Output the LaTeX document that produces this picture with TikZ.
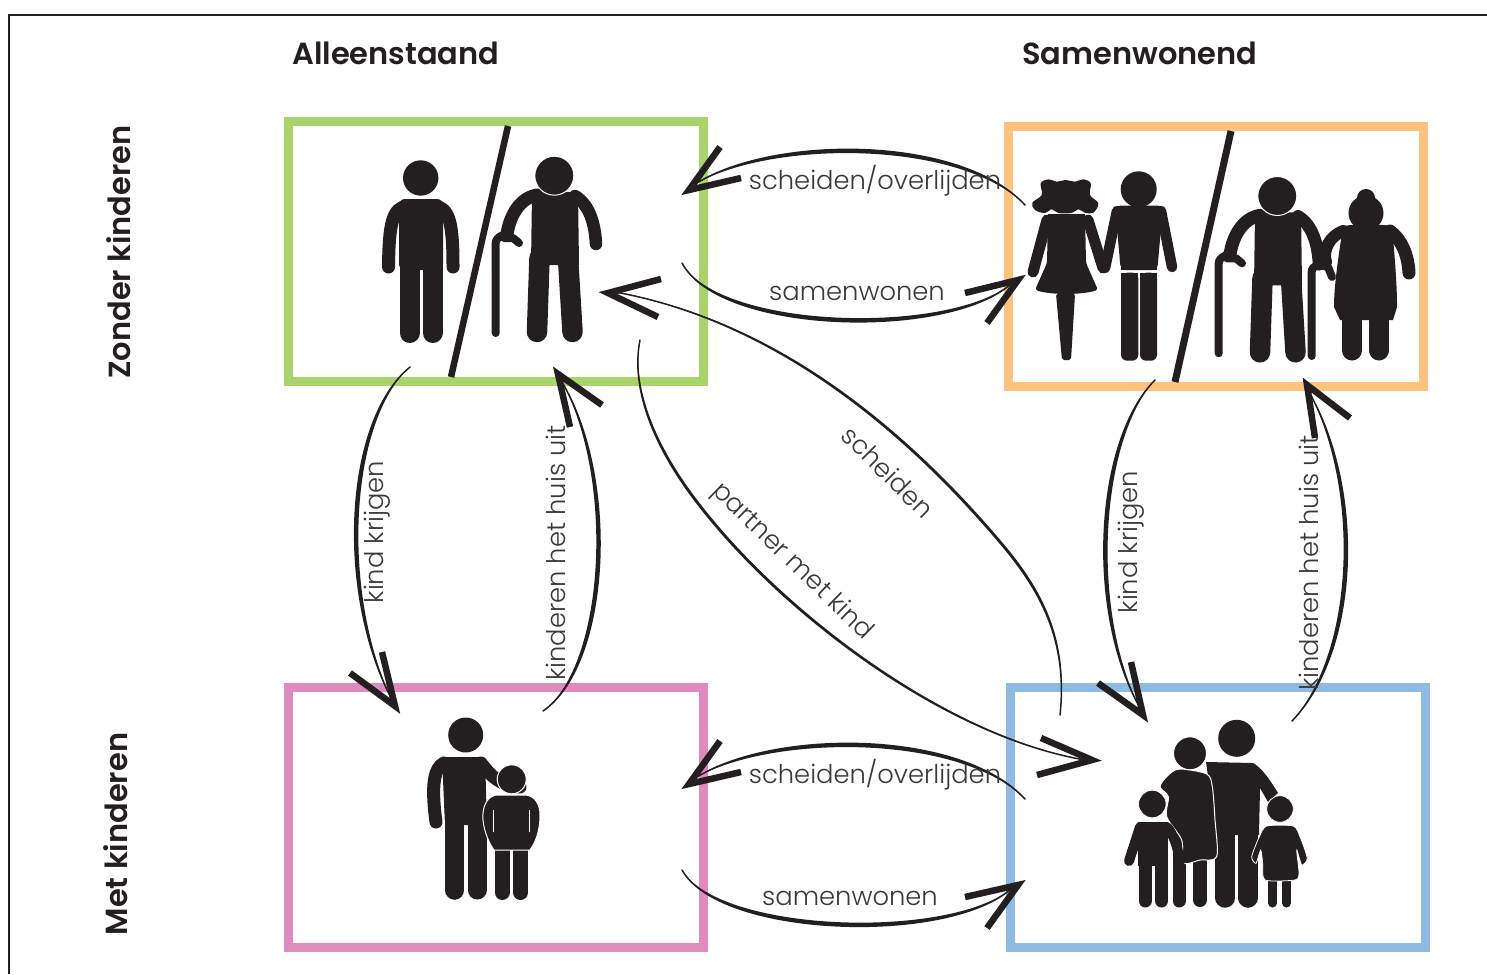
\documentclass[tikz,border=0pt]{standalone}
\usepackage{fontspec}
\setmainfont{Poppins Light}
\newfontfamily\titlefont{Poppins SemiBold}
\usetikzlibrary{calc}
\definecolor{fig}{HTML}{231F20}
\definecolor{labelc}{HTML}{3A3839}
\definecolor{cgreen}{HTML}{A8D46B}
\definecolor{corange}{HTML}{FDC27D}
\definecolor{cpink}{HTML}{E08BBD}
\definecolor{cblue}{HTML}{8FBBE3}
\tikzset{
  panel/.style={draw=#1,line width=9pt,fill=none,minimum width=415pt,minimum height=260pt,inner sep=0pt,outer sep=0pt},
  title/.style={font=\titlefont\fontsize{30.5}{31}\selectfont,text=fig,inner sep=0pt},
  lab/.style={font=\fontsize{25.8}{26}\selectfont,text=labelc,inner sep=0pt},
  limb/.style={draw=fig,line cap=round,line join=round},
  halo/.style={fill=fig,draw=white,line width=1pt},
  vhead/.style={draw=fig,line width=6.5pt,miter limit=12,line join=miter,line cap=butt},
  inkline/.style={draw=fig,line width=1.5pt,line cap=round}
}
\newcommand{\sketchline}[5]{%
  \draw[inkline] (#1) .. controls #2 and #3 .. (#4);
  \fill[fig] (#1) .. controls #2 and #3 .. (#4) .. controls ($#3+#5$) and ($#2+#5$) .. (#1);}
\newcommand{\sketchtwo}[8]{%
  \draw[inkline] (#1) .. controls #2 and #3 .. (#4) .. controls #5 and #6 .. (#7);
  \fill[fig] (#1) .. controls #2 and #3 .. (#4) .. controls #5 and #6 .. (#7)
     .. controls ($#6+#8$) and ($#5+#8$) .. ($(#4)+#8$) .. controls ($#3+#8$) and ($#2+#8$) .. (#1);}
\newcommand{\ohead}[3]{\draw[vhead] (#1) -- (#2) -- (#3);}
\newcommand{\oldman}{%
  \draw[limb,line width=8pt] (495.7,333) -- (495.7,243) .. controls (495.7,240) and (498,237) .. (503,235);
  \fill[fig] (532,192) -- (578,192) -- (579,265) -- (531,265) -- cycle;
  \draw[limb,line width=20.5pt] (539.5,258) -- (537,332);
  \draw[limb,line width=20.5pt] (568,258) -- (572.5,332);
  \draw[limb,line width=12.5pt] (575,196) .. controls (590,205) and (595,225) .. (596,244);
  \draw[limb,line width=13pt] (537,195) .. controls (520,198) and (510,215) .. (507,234);
  \draw[limb,line width=8pt] (504,238) -- (513,238) -- (519,243);
  \fill[halo] (554.3,175.7) circle (19.5pt);
}
\begin{document}
\begin{tikzpicture}[x=1pt,y=-1pt]
\useasboundingbox (0,0) rectangle (1487,974);
\fill[white] (0,0) rectangle (1487,974);
\coordinate (frameA) at (9,974);
\coordinate (frameB) at (9,15);
\coordinate (frameC) at (1487,15);
\draw[fig,line width=2pt] (frameA) -- (frameB) -- (frameC);

\node[panel=cgreen] (boxA) at (495.5,251) {};
\node[panel=corange] (boxB) at (1215.5,256.5) {};
\node[panel=cpink] (boxC) at (495.5,817) {};
\node[panel=cblue] (boxD) at (1217.5,817.5) {};

\node[title,anchor=base west] (tA) at (292,64) {Alleenstaand};
\node[title,anchor=base west] (tB) at (1022,64) {Samenwonend};
\node[title,rotate=90] (tC) at (119,252) {Zonder kinderen};
\node[title,rotate=90] (tD) at (116,834) {Met kinderen};

% slashes
\coordinate (slA) at (508,126); \coordinate (slB) at (451,377);
\coordinate (slC) at (1231,131); \coordinate (slD) at (1175,382);
\draw[fig,line width=6.5pt] (slA) -- (slB);
\draw[fig,line width=7pt] (slC) -- (slD);

% single man
\fill[fig] (420.7,178) circle (17.7pt);
\fill[fig,rounded corners=6pt] (399,199) -- (443,199) -- (443,270) -- (399,270) -- cycle;
\draw[limb,line width=20pt] (409.5,262) -- (409.5,333);
\draw[limb,line width=20pt] (432.5,262) -- (432.5,333);
\draw[limb,line width=13pt] (408,206) .. controls (392,207) and (389,225) .. (388.5,267);
\draw[limb,line width=13pt] (434,206) .. controls (450,207) and (453,225) .. (453,267);

\oldman

% girl
\fill[fig] plot[smooth cycle,tension=.6] coordinates {(1040.7,183.3) (1048.3,179.3) (1056.7,181.7) (1065.7,180) (1075,181.7) (1083.3,179.3) (1090.7,183.3) (1090,195) (1098.3,203.3) (1093.3,212.7) (1085,212.7) (1078.3,209.3) (1071.7,213) (1058.3,213) (1051.7,209.3) (1045,213) (1035,210) (1032.3,202.7) (1041.7,195)};
\fill[fig,rounded corners=3pt] (1048,214) -- (1085,214) -- (1086,263) -- (1098,290) .. controls (1080,295) and (1052,295) .. (1035,290) -- (1047,263) -- cycle;
\fill[fig] (1048,214) -- (1085,214) -- (1085,240) -- (1048,240) -- cycle;
\draw[limb,line width=11pt] (1047,220) -- (1033,272);
\draw[limb,line width=11pt] (1088,220) -- (1103,268);
\fill[fig,rounded corners=2pt] (1056,294) -- (1075,294) -- (1071,360) -- (1062,360) -- cycle;
% boy
\fill[fig] (1138.7,189.3) circle (18pt);
\fill[fig,rounded corners=5pt] (1115,205.7) -- (1163,205.7) -- (1157.3,270) -- (1120.7,270) -- cycle;
\fill[fig] (1121,212) rectangle (1157,270);
\draw[limb,line width=10.5pt] (1117,211) -- (1105,268);
\draw[limb,line width=10.5pt] (1161,211) -- (1172,267);
\fill[fig,rounded corners=6pt] (1121,272.7) -- (1138.3,272.7) -- (1138.3,360.7) -- (1121,360.7) -- cycle;
\fill[fig] (1121,272.7) rectangle (1138.3,340);
\fill[fig,rounded corners=6pt] (1140,272.7) -- (1157,272.7) -- (1157,360.7) -- (1140,360.7) -- cycle;
\fill[fig] (1140,272.7) rectangle (1157,340);

% couple old man + woman
\begin{scope}[shift={(723,20.3)}]\oldman\end{scope}
\draw[limb,line width=8pt] (1311.7,356) -- (1311.7,272) .. controls (1311.7,268) and (1314,266) .. (1320,265);
\fill[fig] (1366,198) circle (9pt);
\fill[fig] (1366,213) circle (17.5pt);
\fill[fig] (1343,226) .. controls (1355,224) and (1378,224) .. (1392,226) .. controls (1395,260) and (1397,285) .. (1397,307) -- (1393,320) -- (1340,320) -- (1334,307) .. controls (1334,285) and (1338,260) .. (1343,226) -- cycle;
\draw[limb,line width=13pt] (1390,231) .. controls (1402,240) and (1408,255) .. (1409,273);
\draw[limb,line width=12pt] (1343,231) .. controls (1330,236) and (1322,250) .. (1326,262);
\draw[limb,line width=8pt] (1320,265) -- (1328,267) -- (1332,277);
\draw[limb,line width=20pt] (1352,318) -- (1352,350.5);
\draw[limb,line width=20pt] (1379,318) -- (1379,350.5);

% parent + child
\fill[fig] (465.7,735) circle (17.5pt);
\fill[fig,rounded corners=5pt] (442,757) -- (485,757) -- (487,825) -- (445,825) -- cycle;
\draw[limb,line width=19.5pt] (454.7,815) -- (454.7,890);
\draw[limb,line width=19pt] (477,815) -- (477,890);
\draw[limb,line width=13pt] (444,763) .. controls (434,768) and (431,785) .. (436,822);
\draw[limb,line width=13pt] (481,763) .. controls (490,775) and (500,786) .. (520,787);
\fill[halo] (511.7,779.3) circle (14.5pt);
\draw[limb,line width=15pt] (502,850) -- (502,892.5);
\draw[limb,line width=15pt] (520.5,850) -- (520.5,892.5);
\fill[halo] (496,795) .. controls (486,797) and (482,808) .. (483,820) .. controls (484,832) and (490,845) .. (494,850) -- (530,850) .. controls (535,843) and (540,832) .. (540,815) .. controls (540,803) and (534,796) .. (526,795) -- cycle;
\fill[white] (492.5,810) rectangle (493.8,832);
\fill[white] (529,810) rectangle (530.3,832);

% family
\draw[limb,line width=19.5pt] (1225,825) -- (1225,898);
\draw[limb,line width=19.5pt] (1248,825) -- (1248,898);
\fill[fig] (1206,762) -- (1253,763) .. controls (1262,768) and (1270,780) .. (1278,793) -- (1268,802) -- (1260,788) -- (1259,835) -- (1216,835) -- cycle;
\fill[fig] (1236.7,738.3) circle (18.5pt);
\draw[limb,line width=13pt] (1179,840) -- (1179,901);
\draw[limb,line width=14pt] (1200,840) -- (1200,900);
\fill[halo] plot[smooth cycle,tension=.5] coordinates {(1160,786.7) (1168.3,775) (1180,769) (1206.7,774) (1212.3,786.7) (1215,820) (1216.7,856.7) (1200,860) (1183.3,863) (1181.7,840) (1166.7,816.7) (1168.3,796.7)};
\fill[halo] (1190,753.3) circle (16.5pt);
\draw[limb,line width=13pt] (1145,835) -- (1145,901);
\draw[limb,line width=13pt] (1161.5,835) -- (1161.5,901);
\fill[fig] (1138,822) -- (1168,822) -- (1168,866) -- (1138,866) -- cycle;
\draw[limb,line width=10pt] (1140,827) -- (1129,861);
\draw[limb,line width=10pt] (1167,827) .. controls (1174,835) and (1178,848) .. (1180,862);
\fill[fig,draw=white,line width=.8pt] (1152.3,804) circle (13.8pt);
\draw[limb,line width=9pt] (1272.5,875) -- (1272.5,903);
\draw[limb,line width=9pt] (1286.5,875) -- (1286.5,903);
\fill[fig,draw=white,line width=.8pt] plot[smooth cycle,tension=.4] coordinates {(1266.7,826) (1293.3,826) (1300,836.7) (1307.3,858.3) (1301.7,865) (1296.7,850) (1299,873.3) (1295,880) (1265,880) (1262.7,863.3) (1260.7,850) (1256,863.3) (1251.7,856.7) (1259.3,836.7)};
\fill[fig,draw=white,line width=.8pt] (1280,809) circle (13.3pt);

% connector ends
\coordinate (a1) at (1025,205); \coordinate (a2) at (697,183);
\coordinate (at) at (689,190); \coordinate (ae1) at (720,147); \coordinate (ae2) at (741,178);
\coordinate (b1) at (682,263); \coordinate (b2) at (1012,283);
\coordinate (bt) at (1018,280); \coordinate (be1) at (965,293); \coordinate (be2) at (987,323);
\coordinate (c1) at (1025,799); \coordinate (c2) at (697,777);
\coordinate (ct) at (689,784); \coordinate (ce1) at (720,741); \coordinate (ce2) at (741,772);
\coordinate (d1) at (682,870); \coordinate (d2) at (1012,888);
\coordinate (dt) at (1018,885); \coordinate (de1) at (965,897); \coordinate (de2) at (987,928);
\coordinate (e1) at (1060,715); \coordinate (em) at (1000,543); \coordinate (e2) at (615,292);
\coordinate (et) at (608,293); \coordinate (ee1) at (661,279); \coordinate (ee2) at (658,317);
\coordinate (f1) at (640,340); \coordinate (fm) at (700,507); \coordinate (f2) at (1085,760);
\coordinate (ft) at (1092,760); \coordinate (fe1) at (1041,738); \coordinate (fe2) at (1037,775);
\coordinate (g1) at (410,367); \coordinate (g2) at (392,700);
\coordinate (gt) at (395,706); \coordinate (ge1) at (350,673); \coordinate (ge2) at (382,652);
\coordinate (h1) at (543,711); \coordinate (h2) at (562,382);
\coordinate (ht) at (558,374); \coordinate (he1) at (602,405); \coordinate (he2) at (570,427);
\coordinate (i1) at (1155,380); \coordinate (i2) at (1140,708);
\coordinate (it) at (1143,715); \coordinate (ie1) at (1098,683); \coordinate (ie2) at (1131,662);
\coordinate (j1) at (1292,721); \coordinate (j2) at (1309,392);
\coordinate (jt) at (1307,385); \coordinate (je1) at (1350,418); \coordinate (je2) at (1315,438);

\sketchline{a1}{(960,135)}{(775,135)}{a2}{(0,5)}
\ohead{ae1}{at}{ae2}
\sketchline{b1}{(720,335)}{(950,340)}{b2}{(0,-5)}
\ohead{be1}{bt}{be2}
\sketchline{c1}{(960,729)}{(775,729)}{c2}{(0,5)}
\ohead{ce1}{ct}{ce2}
\sketchline{d1}{(720,938)}{(950,945)}{d2}{(0,-5)}
\ohead{de1}{dt}{de2}
\sketchtwo{e1}{(1068,640)}{(1040,590)}{em}{(900,425)}{(770,320)}{e2}{(1.5,-1.5)}
\ohead{ee1}{et}{ee2}
\sketchtwo{f1}{(630,390)}{(655,450)}{fm}{(780,610)}{(940,735)}{f2}{(1.5,-1.5)}
\ohead{fe1}{ft}{fe2}
\sketchline{g1}{(345,420)}{(335,590)}{g2}{(5,0)}
\ohead{ge1}{gt}{ge2}
\sketchline{h1}{(610,665)}{(620,480)}{h2}{(-5,0)}
\ohead{he1}{ht}{he2}
\sketchline{i1}{(1095,440)}{(1085,610)}{i2}{(5,0)}
\ohead{ie1}{it}{ie2}
\sketchline{j1}{(1360,650)}{(1365,490)}{j2}{(-5,0)}
\ohead{je1}{jt}{je2}

% labels
\node[lab] (l1) at (875,181) {scheiden/overlijden};
\node[lab] (l2) at (857,293) {samenwonen};
\node[lab] (l3) at (875,775) {scheiden/overlijden};
\node[lab] (l4) at (850,898) {samenwonen};
\node[lab,rotate=90] (l5) at (377,532) {kind krijgen};
\node[lab,rotate=90] (l6) at (556,553) {kinderen het huis uit};
\node[lab,rotate=90] (l7) at (1131,542) {kind krijgen};
\node[lab,rotate=90] (l8) at (1309,563) {kinderen het huis uit};
\node[lab,rotate=-45] (l9) at (888,472) {scheiden};
\node[lab,rotate=-44] (l10) at (792,562) {partner met kind};
\end{tikzpicture}
\end{document}
